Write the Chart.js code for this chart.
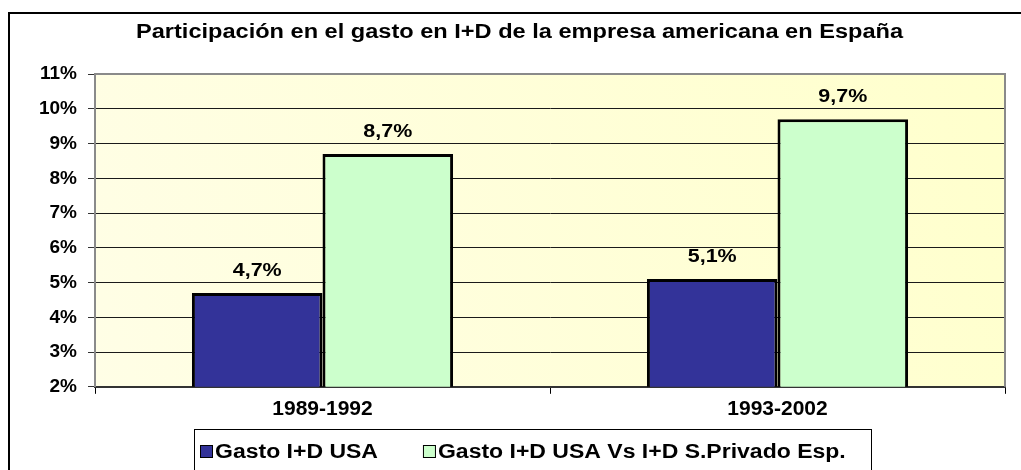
<!DOCTYPE html>
<html>
<head>
<meta charset="utf-8">
<script src="https://cdn.jsdelivr.net/npm/chart.js@4"></script>
<style>
  html, body { margin: 0; padding: 0; background: #fff; }
</style>
</head>
<body>
<canvas id="gastoChart" width="1021" height="470"></canvas>
<script>
// datos
const periodos = ["1989-1992", "1993-2002"];
const gastoUSA = [4.7, 5.1];
const gastoUSAvsPrivado = [8.7, 9.7];
const nombresSeries = ["Gasto I+D USA", "Gasto I+D USA Vs I+D S.Privado Esp."];
const ejeMin = 2;
const ejeMax = 11;
const titulo = "Participación en el gasto en I+D de la empresa americana en España";

const FUENTE = '"Liberation Sans", Arial, sans-serif';
const ESTIRA = 1.13; // el original tiene el texto algo ensanchado

function pct(v) {
  return v.toFixed(1).replace('.', ',') + '%';
}

// texto ensanchado horizontalmente
function texto(ctx, s, x, y, sx) {
  ctx.save();
  ctx.translate(x, y);
  ctx.scale(sx, 1);
  ctx.fillText(s, 0, 0);
  ctx.restore();
}

const marco = {
  id: 'marco',
  beforeDraw(chart) {
    const { ctx, chartArea: a } = chart;
    ctx.save();
    let g = ctx.createLinearGradient(a.right, a.top, a.left, a.bottom);
    g.addColorStop(0, '#FFFFCC');
    g.addColorStop(1, '#FFFEE6');
    ctx.fillStyle = g;
    ctx.fillRect(a.left, a.top, a.right - a.left, a.bottom - a.top);
    ctx.restore();
  },
  afterDatasetsDraw(chart) {
    const ctx = chart.ctx;
    ctx.save();
    ctx.font = 'bold 19px ' + FUENTE;
    ctx.fillStyle = '#000';
    ctx.textAlign = 'center';
    ctx.textBaseline = 'middle';
    chart.data.datasets.forEach((ds, i) => {
      chart.getDatasetMeta(i).data.forEach((bar, j) => {
        texto(ctx, pct(ds.data[j]), bar.x, bar.y - 22, ESTIRA);
      });
    });
    ctx.restore();
  },
  afterDraw(chart) {
    const { ctx, chartArea: a } = chart;
    ctx.save();
    // borde gris arriba y a la derecha
    ctx.strokeStyle = '#8a8a8a';
    ctx.lineWidth = 2;
    ctx.beginPath();
    ctx.moveTo(a.left, a.top);
    ctx.lineTo(a.right, a.top);
    ctx.lineTo(a.right, a.bottom);
    ctx.stroke();

    // marco exterior
    ctx.strokeStyle = '#000';
    ctx.lineWidth = 2;
    ctx.strokeRect(9, 13, 1100, 600);

    // titulo
    ctx.fillStyle = '#000';
    ctx.font = 'bold 20px ' + FUENTE;
    ctx.textAlign = 'center';
    ctx.textBaseline = 'middle';
    texto(ctx, titulo, 519.5, 32, 767 / ctx.measureText(titulo).width);

    // leyenda
    ctx.strokeStyle = '#000';
    ctx.lineWidth = 1;
    ctx.strokeRect(194.5, 429.5, 677, 80);
    ctx.font = 'bold 20px ' + FUENTE;
    ctx.textAlign = 'left';
    let x = 200;
    chart.data.datasets.forEach(ds => {
      ctx.fillStyle = ds.backgroundColor;
      ctx.fillRect(x, 445, 13, 13);
      ctx.strokeStyle = '#000';
      ctx.strokeRect(x + 0.5, 445.5, 12, 12);
      ctx.fillStyle = '#000';
      texto(ctx, ds.label, x + 15, 452, 1.15);
      x += 15 + ctx.measureText(ds.label).width * 1.15 + 45;
    });
    ctx.restore();
  }
};

new Chart(document.getElementById('gastoChart'), {
  type: 'bar',
  data: {
    labels: periodos,
    datasets: [{
      label: nombresSeries[0],
      data: gastoUSA,
      backgroundColor: '#333399',
      borderColor: '#000',
      borderWidth: 3
    }, {
      label: nombresSeries[1],
      data: gastoUSAvsPrivado,
      backgroundColor: '#CCFFCC',
      borderColor: '#000',
      borderWidth: 3
    }]
  },
  options: {
    responsive: false,
    animation: false,
    layout: { padding: { top: 74, left: 18, right: 16, bottom: 45 } },
    datasets: { bar: { categoryPercentage: 0.574, barPercentage: 1 } },
    plugins: {
      legend: { display: false },
      title: { display: false },
      tooltip: { enabled: false }
    },
    scales: {
      x: {
        grid: { drawOnChartArea: false, tickLength: 7, color: '#000' },
        border: { color: '#333', width: 2 },
        ticks: { color: '#000', font: { family: FUENTE, size: 21, weight: 'bold' }, padding: 3 }
      },
      y: {
        min: ejeMin,
        max: ejeMax,
        afterFit(scale) { scale.width = 77; },
        grid: { color: '#1a1a1a', tickLength: 7, tickColor: '#333' },
        border: { color: '#8a8a8a', width: 2 },
        ticks: {
          stepSize: 1,
          color: '#000',
          padding: 11,
          font: { family: FUENTE, size: 19, weight: 'bold' },
          callback: v => v + '%'
        }
      }
    }
  },
  plugins: [marco]
});
</script>
</body>
</html>
